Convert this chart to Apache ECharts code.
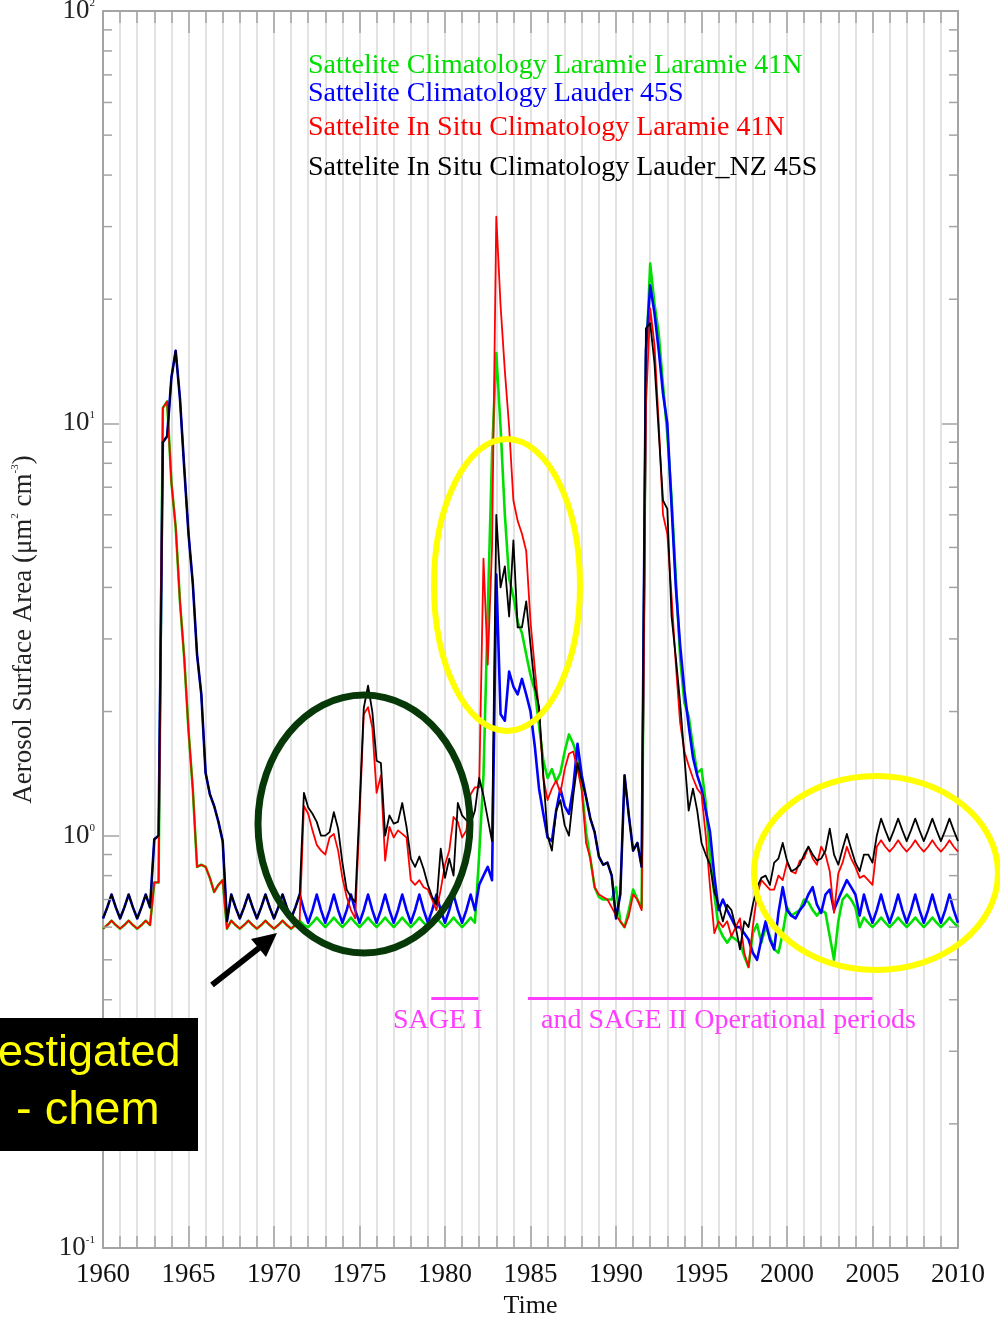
<!DOCTYPE html>
<html>
<head>
<meta charset="utf-8">
<title>Aerosol Surface Area</title>
<script src="https://cdn.jsdelivr.net/npm/echarts@6.0.0/dist/echarts.min.js"></script>
<style>
  html, body { margin: 0; padding: 0; background: #ffffff; }
  #chart { width: 1000px; height: 1319px; }
</style>
</head>
<body>
<div id="chart"></div>
<script>
// Quarterly samples starting at 1960.00 (one row per year: .00 .25 .50 .75), last value is 2010.00
const START_YEAR = 1960;
const SAMPLES_PER_YEAR = 4;

const greenLaramie = [
  /*1960*/ 0.595, 0.607, 0.622, 0.607,
  /*1961*/ 0.595, 0.607, 0.622, 0.607,
  /*1962*/ 0.595, 0.607, 0.622, 0.607,
  /*1963*/ 0.77, 0.77, 10.9, 11.3,
  /*1964*/ 7.2, 5.6, 3.7, 2.7,
  /*1965*/ 1.8, 1.3, 0.84, 0.85,
  /*1966*/ 0.84, 0.79, 0.73, 0.76,
  /*1967*/ 0.78, 0.595, 0.622, 0.607,
  /*1968*/ 0.595, 0.607, 0.622, 0.607,
  /*1969*/ 0.595, 0.607, 0.622, 0.607,
  /*1970*/ 0.595, 0.607, 0.622, 0.607,
  /*1971*/ 0.595, 0.607, 0.622, 0.607,
  /*1972*/ 0.600, 0.615, 0.633, 0.615,
  /*1973*/ 0.600, 0.615, 0.633, 0.615,
  /*1974*/ 0.600, 0.615, 0.633, 0.615,
  /*1975*/ 0.600, 0.615, 0.633, 0.615,
  /*1976*/ 0.600, 0.615, 0.633, 0.615,
  /*1977*/ 0.600, 0.615, 0.633, 0.615,
  /*1978*/ 0.600, 0.615, 0.633, 0.615,
  /*1979*/ 0.600, 0.615, 0.633, 0.615,
  /*1980*/ 0.600, 0.615, 0.633, 0.615,
  /*1981*/ 0.600, 0.615, 0.633, 0.615,
  /*1982*/ 0.90, 1.4, 3.5, 8.4,
  /*1983*/ 14.8, 9.8, 6.0, 4.2,
  /*1984*/ 3.8, 3.3, 3.1, 2.75,
  /*1985*/ 2.45, 2.25, 1.85, 1.52,
  /*1986*/ 1.38, 1.45, 1.35, 1.42,
  /*1987*/ 1.60, 1.76, 1.67, 1.55,
  /*1988*/ 1.31, 1.02, 0.88, 0.75,
  /*1989*/ 0.71, 0.70, 0.70, 0.70,
  /*1990*/ 0.75, 0.62, 0.60, 0.66,
  /*1991*/ 0.74, 0.70, 0.67, 14.0,
  /*1992*/ 24.4, 19.5, 16.5, 12.4,
  /*1993*/ 9.4, 6.6, 4.2, 2.7,
  /*1994*/ 2.1, 1.95, 1.65, 1.42,
  /*1995*/ 1.45, 1.20, 0.88, 0.72,
  /*1996*/ 0.60, 0.57, 0.55, 0.57,
  /*1997*/ 0.56, 0.55, 0.51, 0.48,
  /*1998*/ 0.58, 0.61, 0.55, 0.60,
  /*1999*/ 0.57, 0.53, 0.52, 0.58,
  /*2000*/ 0.67, 0.64, 0.65, 0.66,
  /*2001*/ 0.70, 0.69, 0.66, 0.64,
  /*2002*/ 0.66, 0.65, 0.57, 0.50,
  /*2003*/ 0.62, 0.70, 0.72, 0.70,
  /*2004*/ 0.67, 0.60, 0.633, 0.615,
  /*2005*/ 0.600, 0.615, 0.633, 0.615,
  /*2006*/ 0.600, 0.615, 0.633, 0.615,
  /*2007*/ 0.600, 0.615, 0.633, 0.615,
  /*2008*/ 0.600, 0.615, 0.633, 0.615,
  /*2009*/ 0.600, 0.615, 0.633, 0.615,
  /*2010*/ 0.600
];

const blueLauder = [
  /*1960*/ 0.63, 0.67, 0.72, 0.67,
  /*1961*/ 0.63, 0.67, 0.72, 0.67,
  /*1962*/ 0.63, 0.67, 0.72, 0.67,
  /*1963*/ 0.98, 1.00, 9.0, 9.3,
  /*1964*/ 12.9, 15.0, 11.5, 7.8,
  /*1965*/ 5.4, 4.1, 2.75, 2.2,
  /*1966*/ 1.42, 1.26, 1.18, 1.08,
  /*1967*/ 0.97, 0.62, 0.72, 0.67,
  /*1968*/ 0.63, 0.67, 0.72, 0.67,
  /*1969*/ 0.63, 0.67, 0.72, 0.67,
  /*1970*/ 0.63, 0.67, 0.72, 0.67,
  /*1971*/ 0.63, 0.67, 0.72, 0.66,
  /*1972*/ 0.615, 0.66, 0.72, 0.66,
  /*1973*/ 0.615, 0.66, 0.72, 0.66,
  /*1974*/ 0.615, 0.66, 0.72, 0.66,
  /*1975*/ 0.615, 0.66, 0.72, 0.66,
  /*1976*/ 0.615, 0.66, 0.72, 0.66,
  /*1977*/ 0.615, 0.66, 0.72, 0.66,
  /*1978*/ 0.615, 0.66, 0.72, 0.66,
  /*1979*/ 0.615, 0.66, 0.72, 0.66,
  /*1980*/ 0.615, 0.66, 0.72, 0.66,
  /*1981*/ 0.615, 0.66, 0.72, 0.66,
  /*1982*/ 0.76, 0.80, 0.84, 0.78,
  /*1983*/ 4.3, 1.97, 1.9, 2.5,
  /*1984*/ 2.3, 2.2, 2.4, 2.2,
  /*1985*/ 2.0, 1.65, 1.3, 1.13,
  /*1986*/ 0.99, 0.97, 1.15, 1.3,
  /*1987*/ 1.18, 1.13, 1.31, 1.67,
  /*1988*/ 1.40, 1.24, 1.10, 1.02,
  /*1989*/ 0.89, 0.85, 0.86, 0.80,
  /*1990*/ 0.63, 0.72, 1.40, 1.12,
  /*1991*/ 0.92, 0.96, 0.84, 15.0,
  /*1992*/ 21.6, 18.5, 15.0, 11.8,
  /*1993*/ 10.0, 6.3, 4.0, 2.9,
  /*1994*/ 2.25, 1.85, 1.55, 1.40,
  /*1995*/ 1.30, 1.15, 1.02, 0.80,
  /*1996*/ 0.66, 0.70, 0.66, 0.63,
  /*1997*/ 0.60, 0.60, 0.58, 0.56,
  /*1998*/ 0.52, 0.50, 0.56, 0.62,
  /*1999*/ 0.56, 0.53, 0.65, 0.75,
  /*2000*/ 0.66, 0.64, 0.63, 0.66,
  /*2001*/ 0.68, 0.72, 0.75, 0.68,
  /*2002*/ 0.65, 0.72, 0.74, 0.66,
  /*2003*/ 0.70, 0.74, 0.78, 0.75,
  /*2004*/ 0.72, 0.64, 0.72, 0.66,
  /*2005*/ 0.615, 0.66, 0.72, 0.66,
  /*2006*/ 0.615, 0.66, 0.72, 0.66,
  /*2007*/ 0.615, 0.66, 0.72, 0.66,
  /*2008*/ 0.615, 0.66, 0.72, 0.66,
  /*2009*/ 0.615, 0.66, 0.72, 0.66,
  /*2010*/ 0.615
];

const redLaramieInSitu = [
  /*1960*/ 0.595, 0.607, 0.622, 0.607,
  /*1961*/ 0.595, 0.607, 0.622, 0.607,
  /*1962*/ 0.595, 0.607, 0.622, 0.607,
  /*1963*/ 0.77, 0.77, 10.9, 11.3,
  /*1964*/ 7.2, 5.6, 3.7, 2.7,
  /*1965*/ 1.8, 1.3, 0.84, 0.85,
  /*1966*/ 0.84, 0.79, 0.73, 0.76,
  /*1967*/ 0.78, 0.595, 0.622, 0.607,
  /*1968*/ 0.595, 0.607, 0.622, 0.607,
  /*1969*/ 0.595, 0.607, 0.622, 0.607,
  /*1970*/ 0.595, 0.607, 0.622, 0.607,
  /*1971*/ 0.595, 0.607, 0.622, 1.18,
  /*1972*/ 1.13, 1.03, 0.95, 0.92,
  /*1973*/ 0.90, 0.99, 1.01, 0.92,
  /*1974*/ 0.79, 0.71, 0.66, 0.63,
  /*1975*/ 1.10, 1.97, 2.05, 1.83,
  /*1976*/ 1.27, 1.40, 0.87, 1.05,
  /*1977*/ 0.99, 1.03, 1.01, 0.99,
  /*1978*/ 0.78, 0.76, 0.78, 0.75,
  /*1979*/ 0.74, 0.70, 0.66, 0.74,
  /*1980*/ 0.85, 0.92, 1.11, 1.08,
  /*1981*/ 0.99, 1.03, 1.26, 1.31,
  /*1982*/ 1.31, 4.7, 2.6, 5.0,
  /*1983*/ 31.7, 19.3, 13.4, 9.8,
  /*1984*/ 6.5, 5.8, 5.4, 4.9,
  /*1985*/ 3.3, 2.55, 2.0, 1.38,
  /*1986*/ 1.22, 1.30, 1.36, 1.27,
  /*1987*/ 1.45, 1.58, 1.60, 1.45,
  /*1988*/ 1.29, 0.96, 0.88, 0.75,
  /*1989*/ 0.72, 0.71, 0.70, 0.67,
  /*1990*/ 0.64, 0.62, 0.60, 0.64,
  /*1991*/ 0.72, 0.70, 0.66, 11.0,
  /*1992*/ 19.0, 15.5, 10.0, 6.0,
  /*1993*/ 5.4, 3.8, 2.6, 1.88,
  /*1994*/ 1.60, 1.48, 1.38, 1.30,
  /*1995*/ 1.26, 1.00, 0.75, 0.58,
  /*1996*/ 0.62, 0.60, 0.62, 0.57,
  /*1997*/ 0.60, 0.63, 0.52, 0.48,
  /*1998*/ 0.60, 0.72, 0.78, 0.76,
  /*1999*/ 0.74, 0.74, 0.80, 0.78,
  /*2000*/ 0.86, 0.82, 0.81, 0.87,
  /*2001*/ 0.88, 0.94, 0.88, 0.85,
  /*2002*/ 0.94, 0.90, 0.82, 0.65,
  /*2003*/ 0.81, 0.86, 0.94, 0.88,
  /*2004*/ 0.84, 0.79, 0.80, 0.78,
  /*2005*/ 0.76, 0.94, 0.975, 0.94,
  /*2006*/ 0.915, 0.94, 0.975, 0.94,
  /*2007*/ 0.915, 0.94, 0.975, 0.94,
  /*2008*/ 0.915, 0.94, 0.975, 0.94,
  /*2009*/ 0.915, 0.94, 0.975, 0.94,
  /*2010*/ 0.915
];

const blackLauderInSitu = [
  /*1960*/ 0.63, 0.67, 0.72, 0.67,
  /*1961*/ 0.63, 0.67, 0.72, 0.67,
  /*1962*/ 0.63, 0.67, 0.72, 0.67,
  /*1963*/ 0.98, 1.00, 9.0, 9.3,
  /*1964*/ 12.9, 15.0, 11.5, 7.8,
  /*1965*/ 5.4, 4.1, 2.75, 2.2,
  /*1966*/ 1.42, 1.26, 1.18, 1.08,
  /*1967*/ 0.97, 0.62, 0.72, 0.67,
  /*1968*/ 0.63, 0.67, 0.72, 0.67,
  /*1969*/ 0.63, 0.67, 0.72, 0.67,
  /*1970*/ 0.63, 0.67, 0.72, 0.67,
  /*1971*/ 0.63, 0.67, 0.72, 1.27,
  /*1972*/ 1.17, 1.13, 1.08, 1.00,
  /*1973*/ 1.00, 1.02, 1.14, 1.04,
  /*1974*/ 0.86, 0.74, 0.71, 0.69,
  /*1975*/ 1.17, 2.04, 2.31, 2.00,
  /*1976*/ 1.52, 1.50, 1.00, 1.12,
  /*1977*/ 1.07, 1.08, 1.20, 1.05,
  /*1978*/ 0.88, 0.84, 0.89, 0.83,
  /*1979*/ 0.76, 0.71, 0.68, 0.93,
  /*1980*/ 0.79, 0.88, 0.80, 1.20,
  /*1981*/ 1.12, 1.09, 1.07, 1.15,
  /*1982*/ 1.38, 1.25, 1.10, 0.97,
  /*1983*/ 6.0, 4.0, 4.5, 3.4,
  /*1984*/ 5.2, 3.2, 3.2, 3.7,
  /*1985*/ 2.9, 2.3, 2.05, 1.4,
  /*1986*/ 1.00, 0.92, 1.15, 1.22,
  /*1987*/ 1.06, 1.00, 1.25, 1.50,
  /*1988*/ 1.36, 1.24, 1.10, 1.02,
  /*1989*/ 0.89, 0.85, 0.86, 0.80,
  /*1990*/ 0.63, 0.72, 1.40, 1.12,
  /*1991*/ 0.92, 0.96, 0.84, 17.0,
  /*1992*/ 17.5, 14.0, 9.5, 6.5,
  /*1993*/ 6.2, 3.4, 2.7, 2.1,
  /*1994*/ 1.55, 1.15, 1.30, 1.15,
  /*1995*/ 0.96, 0.90, 0.85, 0.73,
  /*1996*/ 0.68, 0.62, 0.68, 0.66,
  /*1997*/ 0.60, 0.53, 0.62, 0.60,
  /*1998*/ 0.68, 0.75, 0.79, 0.80,
  /*1999*/ 0.76, 0.86, 0.88, 0.96,
  /*2000*/ 0.87, 0.82, 0.83, 0.85,
  /*2001*/ 0.90, 0.94, 0.90, 0.87,
  /*2002*/ 0.88, 0.92, 1.04, 0.90,
  /*2003*/ 0.85, 0.93, 1.01, 0.93,
  /*2004*/ 0.86, 0.82, 0.90, 0.90,
  /*2005*/ 0.86, 1.00, 1.10, 1.03,
  /*2006*/ 0.97, 1.03, 1.10, 1.03,
  /*2007*/ 0.97, 1.03, 1.10, 1.03,
  /*2008*/ 0.97, 1.03, 1.10, 1.03,
  /*2009*/ 0.97, 1.03, 1.10, 1.03,
  /*2010*/ 0.97
];

// Satellite operational periods (decimal years)
const sageIPeriod = [1979.2, 1981.95];
const sageIIPeriod = [1984.85, 2005.0];

// Decade tick values of the log axis
const yDecades = [0.1, 1, 10, 100];

const seriesNames = [
  'Sattelite Climatology Laramie Laramie 41N',
  'Sattelite Climatology Lauder 45S',
  'Sattelite In Situ Climatology Laramie 41N',
  'Sattelite In Situ Climatology Lauder_NZ 45S'
];

// ---------------------------------------------------------------------------

const SERIF = '"Liberation Serif", "Times New Roman", serif';
const SANS = '"Liberation Sans", Arial, sans-serif';
const AXIS_GREY = '#a4a4a4';
const GRID_GREY = '#dadada';
const COLORS = ['#00e000', '#0000ff', '#ff0000', '#000000'];
const PERIOD_LEVEL = 0.403;

function toPairs(values) {
  return values.map((v, i) => [START_YEAR + i / SAMPLES_PER_YEAR, v]);
}

// minor ticks of the log axis (2..9 within each decade)
const minorTickValues = [];
for (let d = 0; d < yDecades.length - 1; d++) {
  for (let m = 2; m <= 9; m++) {
    minorTickValues.push([START_YEAR, +(yDecades[d] * m).toPrecision(3)]);
  }
}

const chart = echarts.init(document.getElementById('chart'), null, { renderer: 'canvas' });

const xAxisCommon = {
  type: 'value',
  min: 1960,
  max: 2010,
  interval: 5,
  axisLine: { show: true, onZero: false, lineStyle: { color: AXIS_GREY, width: 2 } },
  axisTick: { show: true, inside: true, length: 22, lineStyle: { color: AXIS_GREY, width: 1.5 } },
  minorTick: { show: true, splitNumber: 5, length: 12, lineStyle: { color: AXIS_GREY, width: 1.5 } }
};

const yAxisCommon = {
  type: 'log',
  logBase: 10,
  min: 0.1,
  max: 100,
  axisLine: { show: true, onZero: false, lineStyle: { color: AXIS_GREY, width: 2 } },
  axisTick: { show: true, inside: true, length: 16, lineStyle: { color: AXIS_GREY, width: 1.5 } },
  splitLine: { show: false }
};

const lineSeries = [
  { name: seriesNames[0], data: toPairs(greenLaramie), color: COLORS[0], width: 2.6, z: 2 },
  { name: seriesNames[1], data: toPairs(blueLauder), color: COLORS[1], width: 2.6, z: 3 },
  { name: seriesNames[2], data: toPairs(redLaramieInSitu), color: COLORS[2], width: 1.8, z: 4 },
  { name: seriesNames[3], data: toPairs(blackLauderInSitu), color: COLORS[3], width: 1.8, z: 5 }
].map(s => ({
  type: 'line',
  name: s.name,
  data: s.data,
  xAxisIndex: 0,
  yAxisIndex: 0,
  showSymbol: false,
  symbol: 'none',
  clip: true,
  z: s.z,
  lineStyle: { color: s.color, width: s.width, join: 'round' },
  itemStyle: { color: s.color },
  emphasis: { disabled: true }
}));

const option = {
  animation: false,
  backgroundColor: '#ffffff',
  grid: { left: 103, right: 42, top: 11, bottom: 71, containLabel: false, outerBoundsMode: 'none' },
  xAxis: [
    Object.assign({}, xAxisCommon, {
      position: 'bottom',
      name: 'Time',
      nameLocation: 'middle',
      nameGap: 43,
      nameTextStyle: { fontFamily: SERIF, fontSize: 26, color: '#111' },
      splitLine: { show: true, lineStyle: { color: GRID_GREY, width: 1.5 } },
      minorSplitLine: { show: true, lineStyle: { color: GRID_GREY, width: 1.5 } },
      axisLabel: { fontFamily: SERIF, fontSize: 27, color: '#111', margin: 13, formatter: v => String(v) }
    }),
    Object.assign({}, xAxisCommon, {
      position: 'top',
      axisLabel: { show: false },
      splitLine: { show: false }
    })
  ],
  yAxis: [
    Object.assign({}, yAxisCommon, {
      position: 'left',
      name: 'Aerosol Surface Area (μm{sup|2} cm{sup|-3})',
      nameLocation: 'middle',
      nameRotate: 90,
      nameGap: 66,
      nameTextStyle: {
        fontFamily: SERIF, fontSize: 27, color: '#222',
        rich: { sup: { fontFamily: SERIF, fontSize: 11, color: '#222', verticalAlign: 'top' } }
      },
      axisLabel: {
        margin: 8,
        formatter: v => '{b|10}{e|' + Math.round(Math.log10(v)) + '}',
        rich: {
          b: { fontFamily: SERIF, fontSize: 27, color: '#222' },
          e: { fontFamily: SERIF, fontSize: 11, color: '#222', verticalAlign: 'top' }
        }
      }
    }),
    Object.assign({}, yAxisCommon, {
      position: 'right',
      axisLabel: { show: false }
    })
  ],
  series: lineSeries.concat([
    {
      // minor ticks on both vertical edges of the frame
      type: 'custom',
      name: 'minor-ticks',
      silent: true,
      clip: false,
      z: 6,
      xAxisIndex: 0,
      yAxisIndex: 0,
      data: minorTickValues,
      renderItem: function (params, api) {
        const v = api.value(1);
        const left = api.coord([1960, v]);
        const right = api.coord([2010, v]);
        const st = { stroke: AXIS_GREY, lineWidth: 1.5 };
        return {
          type: 'group',
          children: [
            { type: 'line', shape: { x1: left[0], y1: left[1], x2: left[0] + 9, y2: left[1] }, style: st },
            { type: 'line', shape: { x1: right[0], y1: right[1], x2: right[0] - 9, y2: right[1] }, style: st }
          ]
        };
      }
    },
    {
      // SAGE operational period bars
      type: 'custom',
      name: 'sage-periods',
      silent: true,
      clip: false,
      z: 7,
      xAxisIndex: 0,
      yAxisIndex: 0,
      encode: { x: [0, 1], y: 2 },
      data: [sageIPeriod.concat([PERIOD_LEVEL]), sageIIPeriod.concat([PERIOD_LEVEL])],
      renderItem: function (params, api) {
        const a = api.coord([api.value(0), api.value(2)]);
        const b = api.coord([api.value(1), api.value(2)]);
        return {
          type: 'line',
          shape: { x1: a[0], y1: a[1], x2: b[0], y2: b[1] },
          style: { stroke: '#ff3cff', lineWidth: 3 }
        };
      }
    }
  ]),
  graphic: [
    // colored legend text block
    { type: 'text', left: 308, top: 52, z: 100, style: { text: seriesNames[0], fill: COLORS[0], font: '28px ' + SERIF } },
    { type: 'text', left: 308, top: 80, z: 100, style: { text: seriesNames[1], fill: COLORS[1], font: '28px ' + SERIF } },
    { type: 'text', left: 308, top: 114, z: 100, style: { text: seriesNames[2], fill: COLORS[2], font: '28px ' + SERIF } },
    { type: 'text', left: 308, top: 154, z: 100, style: { text: seriesNames[3], fill: COLORS[3], font: '28px ' + SERIF } },

    // period labels
    { type: 'text', left: 393, top: 1007, z: 100, style: { text: 'SAGE I', fill: '#ff3cff', font: '28px ' + SERIF } },
    { type: 'text', left: 541, top: 1007, z: 100, style: { text: 'and SAGE II Operational periods', fill: '#ff3cff', font: '28px ' + SERIF } },

    // highlight ellipses
    { type: 'ellipse', z: 110, shape: { cx: 507, cy: 585, rx: 73, ry: 146 }, style: { fill: 'none', stroke: '#ffff00', lineWidth: 6 } },
    { type: 'ellipse', z: 110, shape: { cx: 364, cy: 824, rx: 106, ry: 129 }, style: { fill: 'none', stroke: '#073807', lineWidth: 7 } },
    { type: 'ellipse', z: 110, shape: { cx: 876, cy: 873, rx: 122, ry: 97 }, style: { fill: 'none', stroke: '#ffff00', lineWidth: 6 } },

    // arrow
    { type: 'line', z: 110, shape: { x1: 212, y1: 985, x2: 259, y2: 948 }, style: { stroke: '#000', lineWidth: 6 } },
    { type: 'polygon', z: 110, shape: { points: [[277, 933], [266, 957], [251, 939]] }, style: { fill: '#000' } },

    // black note box
    { type: 'rect', z: 110, shape: { x: 0, y: 1018, width: 198, height: 133 }, style: { fill: '#000' } },
    { type: 'text', z: 111, left: -2, top: 1031, style: { text: 'estigated', fill: '#ffff00', font: '45px ' + SANS } },
    { type: 'text', z: 111, left: 16, top: 1088, style: { text: '- chem', fill: '#ffff00', font: '47px ' + SANS } }
  ]
};

chart.setOption(option);
</script>
</body>
</html>
